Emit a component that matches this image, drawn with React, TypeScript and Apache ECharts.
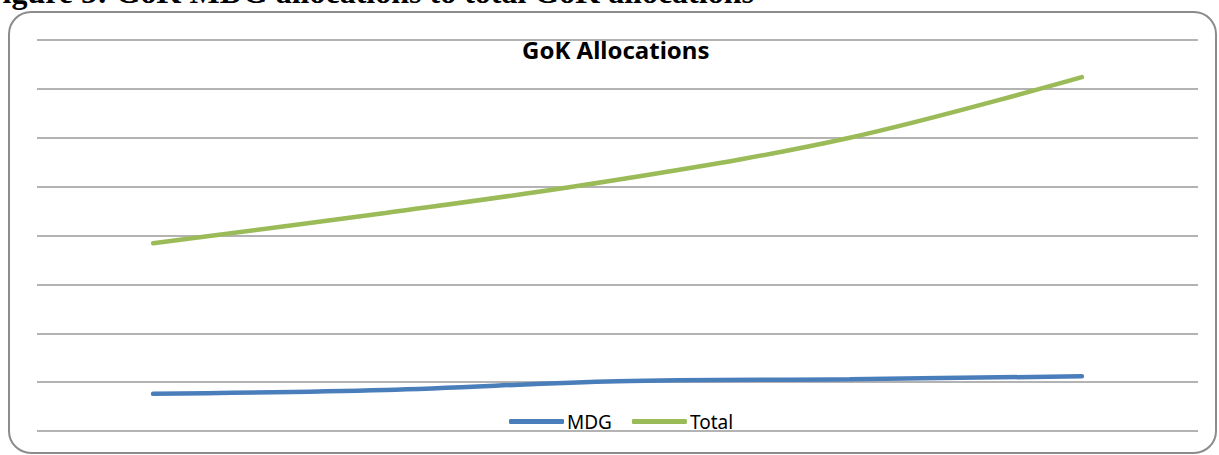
import React, { useEffect, useRef } from "react";
import * as echarts from "echarts";

const categories = ["2004/05", "2005/06", "2006/07", "2007/08", "2008/09"];
const mdgValues = [38, 42, 51, 53, 56];
const totalValues = [192, 223, 257, 300, 362];
const yMin = 0;
const yMax = 400;
const yInterval = 50;

export default function App() {
  const ref = useRef<HTMLDivElement>(null);
  useEffect(() => {
    if (!ref.current) return;
    const chart = echarts.init(ref.current, null, { renderer: "svg" });
    chart.setOption({
      animation: false,
      backgroundColor: "#ffffff",
      title: {
        text: "GoK Allocations",
        left: 517,
        top: 32,
        textStyle: { fontFamily: "Noto Sans", fontWeight: "bold", fontSize: 24, color: "#000" },
      },
      legend: {
        top: 412,
        left: 509,
        padding: 0,
        itemWidth: 55,
        itemHeight: 5,
        itemGap: 20,
        icon: "roundRect",
        textStyle: { fontFamily: "Noto Sans", fontSize: 19, color: "#000", padding: [0, 0, 0, -2] },
        data: ["MDG", "Total"],
      },
      graphic: [
        {
          type: "rect",
          shape: { x: 9, y: 12, width: 1207, height: 441, r: 22 },
          style: { fill: "none", stroke: "#8c8c8c", lineWidth: 2 },
        },
        {
          type: "text",
          x: -17,
          y: 8,
          style: {
            text: "Figure 5: GoK MDG allocations to total GoK allocations",
            fontFamily: "Liberation Serif",
            fontWeight: "bold",
            fontSize: 32,
            fill: "#000",
            verticalAlign: "bottom",
          },
        },
      ],
      grid: { left: 37, right: 21, top: 40, bottom: 24, containLabel: false },
      xAxis: {
        type: "category",
        data: categories,
        boundaryGap: true,
        axisLine: { show: false },
        axisTick: { show: false },
        axisLabel: { show: false },
      },
      yAxis: {
        type: "value",
        min: yMin,
        max: yMax,
        interval: yInterval,
        axisLine: { show: false },
        axisTick: { show: false },
        axisLabel: { show: false },
        splitLine: { lineStyle: { color: "#9a9a9a", width: 1.5 } },
      },
      series: [
        {
          name: "MDG",
          type: "line",
          data: mdgValues,
          smooth: 0.35,
          symbol: "none",
          lineStyle: { color: "#4a7ebb", width: 4.5, cap: "round" },
          itemStyle: { color: "#4a7ebb" },
        },
        {
          name: "Total",
          type: "line",
          data: totalValues,
          smooth: 0.35,
          symbol: "none",
          lineStyle: { color: "#9bbb59", width: 4.5, cap: "round" },
          itemStyle: { color: "#9bbb59" },
        },
      ],
    });
    return () => chart.dispose();
  }, []);
  return (
    <div
      ref={ref}
      style={{ position: "fixed", left: 0, top: 0, width: 1219, height: 455 }}
    />
  );
}
